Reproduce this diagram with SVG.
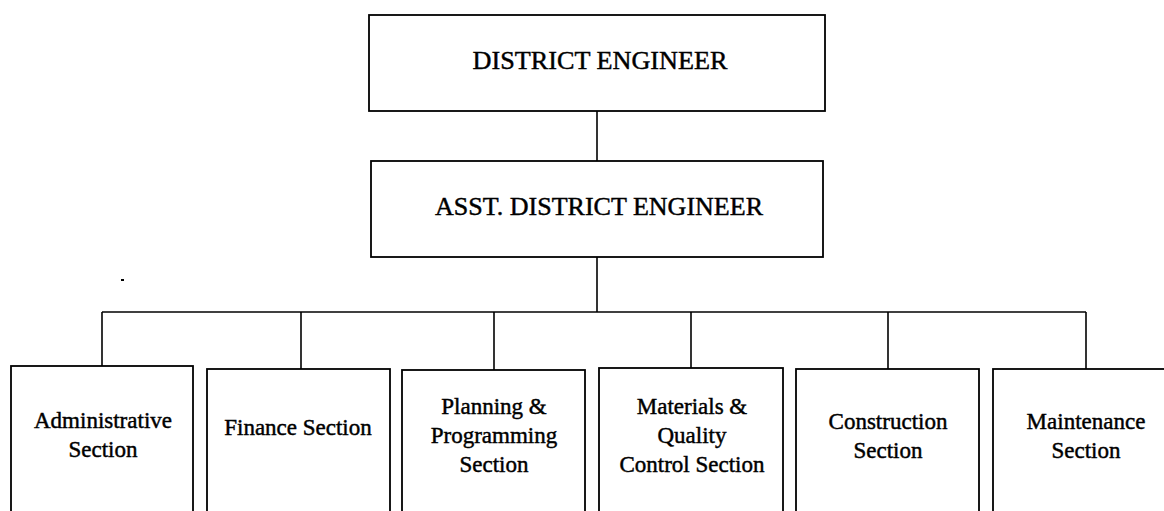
<svg xmlns="http://www.w3.org/2000/svg" width="1164" height="511" viewBox="0 0 1164 511">
<style>
.box{fill:#fff;stroke:#000;stroke-width:1.8}
.ln{fill:none;stroke:#000;stroke-width:1.6}
.t{font-family:'Liberation Serif','Times New Roman',Times,serif;fill:#000;stroke:#000;stroke-width:0.45;text-anchor:middle}
.big{font-size:26px}
.sm{font-size:23px}
</style>
<rect width="1164" height="511" fill="#fff"/>
<g id="connectors">
<line class="ln" x1="597" y1="111" x2="597" y2="161"/>
<line class="ln" x1="597" y1="257" x2="597" y2="312"/>
<line class="ln" x1="102" y1="312" x2="1086" y2="312"/>
<line class="ln" x1="102" y1="312" x2="102" y2="366"/>
<line class="ln" x1="301" y1="312" x2="301" y2="369"/>
<line class="ln" x1="494" y1="312" x2="494" y2="370"/>
<line class="ln" x1="691" y1="312" x2="691" y2="368"/>
<line class="ln" x1="888" y1="312" x2="888" y2="369"/>
<line class="ln" x1="1086" y1="312" x2="1086" y2="369"/>
</g>
<g id="district-engineer">
<rect class="box" x="369" y="15" width="456" height="96"/>
<text class="t big" x="600" y="69" textLength="255" lengthAdjust="spacingAndGlyphs">DISTRICT ENGINEER</text>
</g>
<g id="asst-district-engineer">
<rect class="box" x="371" y="161" width="452" height="96"/>
<text class="t big" x="599" y="215" textLength="328" lengthAdjust="spacingAndGlyphs">ASST. DISTRICT ENGINEER</text>
</g>
<g id="administrative">
<rect class="box" x="11" y="366" width="182" height="160"/>
<text class="t sm" x="103" y="428">Administrative</text>
<text class="t sm" x="103" y="457">Section</text>
</g>
<g id="finance">
<rect class="box" x="207" y="369" width="183" height="160"/>
<text class="t sm" x="298" y="435">Finance Section</text>
</g>
<g id="planning">
<rect class="box" x="402" y="370" width="183" height="160"/>
<text class="t sm" x="494" y="414">Planning &amp;</text>
<text class="t sm" x="494" y="443">Programming</text>
<text class="t sm" x="494" y="472">Section</text>
</g>
<g id="materials">
<rect class="box" x="599" y="368" width="184" height="160"/>
<text class="t sm" x="692" y="414">Materials &amp;</text>
<text class="t sm" x="692" y="443">Quality</text>
<text class="t sm" x="692" y="472">Control Section</text>
</g>
<g id="construction">
<rect class="box" x="796" y="369" width="183" height="160"/>
<text class="t sm" x="888" y="429">Construction</text>
<text class="t sm" x="888" y="458">Section</text>
</g>
<g id="maintenance">
<rect class="box" x="993" y="369" width="186" height="160"/>
<text class="t sm" x="1086" y="429">Maintenance</text>
<text class="t sm" x="1086" y="458">Section</text>
</g>
<rect x="121" y="279" width="3" height="2" fill="#000"/>
</svg>
